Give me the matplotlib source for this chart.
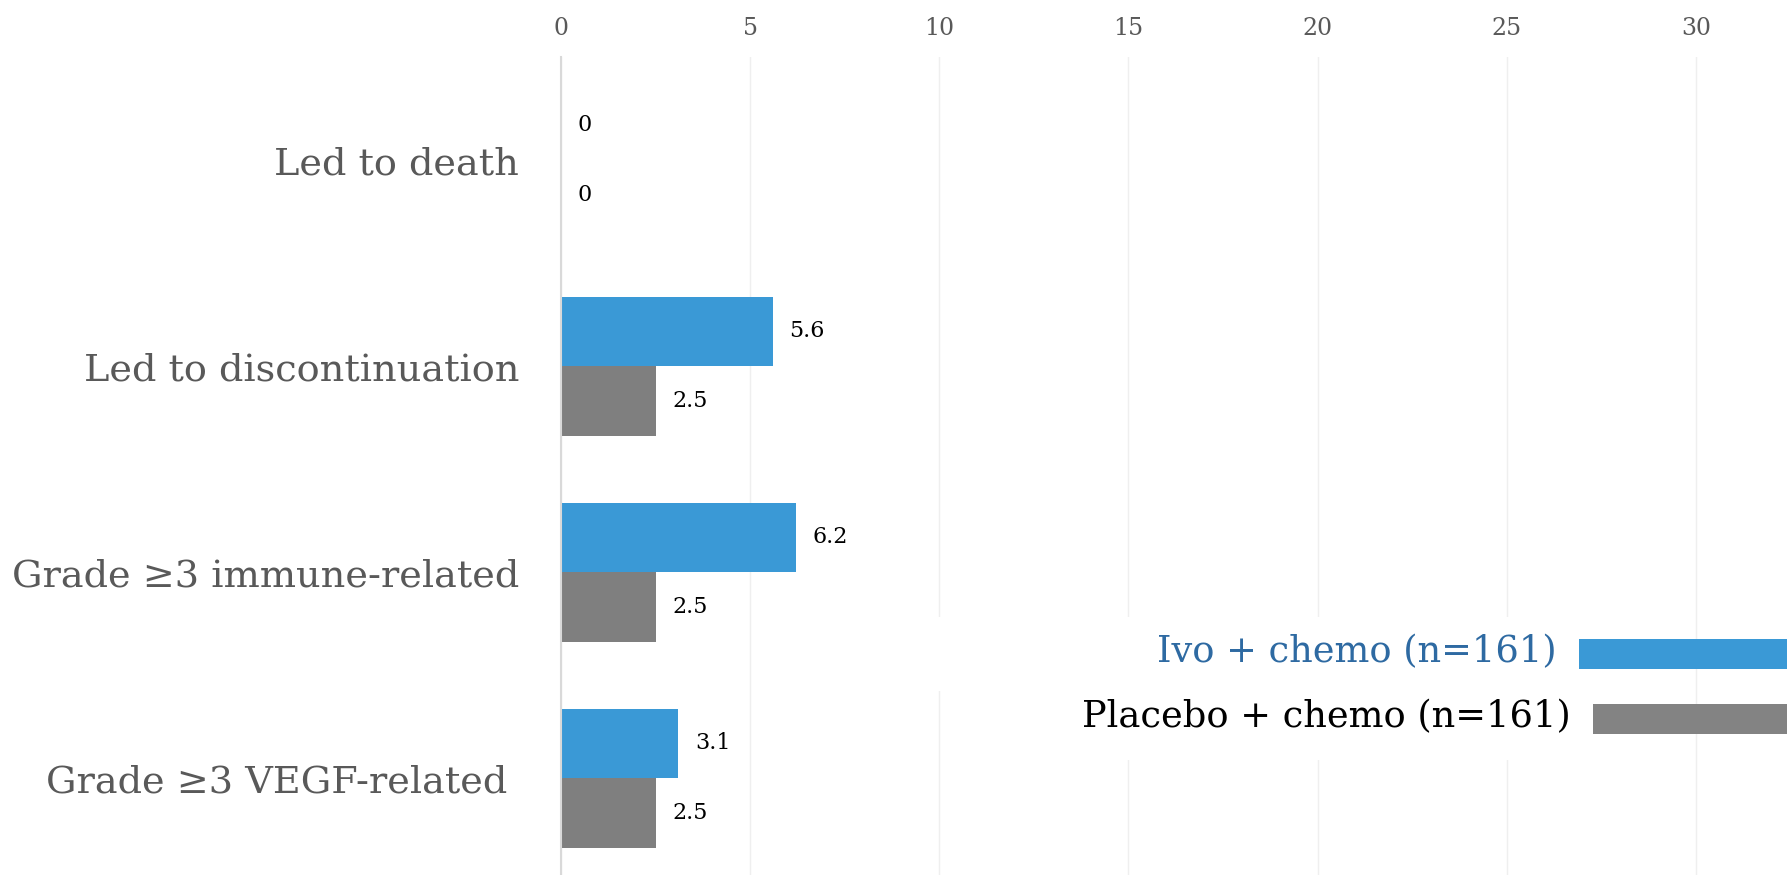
import matplotlib
matplotlib.use("Agg")
import matplotlib.pyplot as plt
import numpy as np
from matplotlib.patches import Rectangle

plt.rcParams['font.family'] = ['DejaVu Serif']

categories = ["Led to death", "Led to discontinuation", "Grade \u22653 immune-related", "Grade \u22653 VEGF-related "]
ivo_chemo = [0, 5.6, 6.2, 3.1]
placebo_chemo = [0, 2.5, 2.5, 2.5]
series_names = ["Ivo + chemo (n=161)", "Placebo + chemo (n=161)"]
x_ticks = [0, 5, 10, 15, 20, 25, 30]

blue = "#3A99D6"
grey = "#7F7F7F"
W, H = 1787, 875

fig = plt.figure(figsize=(W / 100, H / 100), dpi=100)
ax = fig.add_axes([561 / W, 0, 1 - 561 / W, 1 - 57 / H])

y = np.arange(len(categories))
bh = 0.337
ax.barh(y - bh / 2, ivo_chemo, height=bh, color=blue, zorder=3)
ax.barh(y + bh / 2, placebo_chemo, height=bh, color=grey, zorder=3)

for yi, v in zip(y, ivo_chemo):
    ax.annotate(f"{v:g}", (v, yi - bh / 2), xytext=(12, 0), textcoords="offset points",
                ha="left", va="center", fontsize=16, color="black")
for yi, v in zip(y, placebo_chemo):
    ax.annotate(f"{v:g}", (v, yi + bh / 2), xytext=(12, 0), textcoords="offset points",
                ha="left", va="center", fontsize=16, color="black")

ax.set_xticks(x_ticks)
ax.set_xlim(0, (W - 561) / 37.83)
ax.set_ylim(3.47, -0.5)
ax.xaxis.tick_top()
ax.tick_params(axis="x", length=0, pad=12, labelsize=17, labelcolor="#595959")
ax.set_yticks(y)
ax.set_yticklabels(categories)
ax.tick_params(axis="y", length=0, pad=30, labelsize=27.5, labelcolor="#595959")
ax.grid(axis="x", color="#EFEFEF", lw=1, zorder=0)
ax.grid(axis="y", visible=False)
for s in ["top", "right", "bottom"]:
    ax.spines[s].set_visible(False)
ax.spines["left"].set_color("#D9D9D9")
ax.spines["left"].set_linewidth(1.5)
ax.spines["left"].set_zorder(4)

# legend block on the right
def px_rect(x0, y0, x1, y1, color, z):
    fig.patches.append(Rectangle((x0 / W, 1 - y1 / H), (x1 - x0) / W, (y1 - y0) / H,
                                 transform=fig.transFigure, facecolor=color,
                                 edgecolor="none", zorder=z))

px_rect(930, 617, 1690, 691, "white", 5)
px_rect(1080, 617, 1690, 760, "white", 5)
px_rect(1579, 639, W + 5, 669, blue, 6)
px_rect(1593, 704, W + 5, 734, "#838383", 6)
fig.text(1557 / W, 1 - 652 / H, series_names[0], ha="right", va="center",
         fontsize=26.5, color="#2E6AA2", zorder=7)
fig.text(1571 / W, 1 - 717 / H, series_names[1], ha="right", va="center",
         fontsize=26.5, color="black", zorder=7)

fig.savefig("out.png", dpi=100, facecolor="white")
